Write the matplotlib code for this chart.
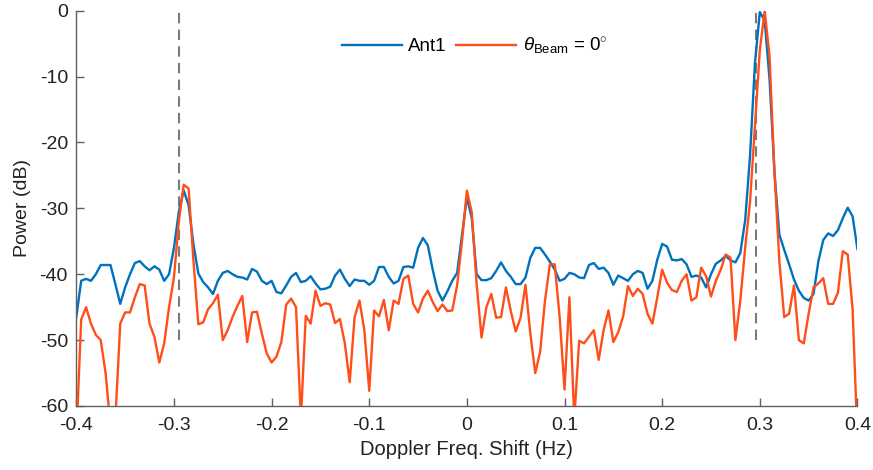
import numpy as np
import matplotlib
matplotlib.use("Agg")
import matplotlib.pyplot as plt

plt.rcParams['font.family'] = ['Liberation Sans', 'DejaVu Sans']
plt.rcParams['axes.unicode_minus'] = False
plt.rcParams['mathtext.fontset'] = 'custom'
plt.rcParams['mathtext.rm'] = 'Liberation Sans'
plt.rcParams['mathtext.it'] = 'Liberation Sans:italic'

# frequency grid (Hz), 0.005 Hz step
freq = np.linspace(-0.4, 0.4, 161)

ant1 = [
    -46.5, -41.0, -40.7, -41.0, -40.0, -38.6, -38.6, -38.6, -41.5, -44.5,
    -42.0, -40.0, -38.3, -38.0, -38.8, -39.4, -38.8, -39.3, -41.0, -40.0,
    -36.0, -30.5, -27.3, -29.5, -35.5, -39.9, -41.2, -42.0, -43.0, -41.0,
    -39.8, -39.5, -40.0, -40.4, -40.5, -40.8, -39.2, -39.6, -41.0, -41.5,
    -41.0, -42.7, -42.9, -41.7, -40.4, -39.8, -41.2, -41.0, -40.3, -41.4,
    -42.3, -42.2, -41.9, -40.2, -39.3, -40.7, -41.8, -40.8, -41.0, -41.0,
    -41.6, -41.0, -38.9, -38.9, -40.4, -41.4, -41.0, -38.9, -38.8, -39.0,
    -36.0, -34.5, -35.6, -39.3, -42.5, -44.0, -42.6, -41.0, -39.8, -34.0,
    -28.3, -31.5, -40.0, -40.9, -40.9, -40.6, -39.5, -38.2, -39.5, -40.4,
    -41.5, -41.5, -40.5, -37.5, -36.0, -36.0, -37.0, -38.1, -39.3, -41.0,
    -40.7, -39.8, -40.0, -40.5, -40.6, -38.6, -38.3, -39.2, -39.0, -39.8,
    -41.6, -40.2, -40.6, -41.0, -40.0, -39.5, -39.8, -42.2, -41.0, -37.8,
    -35.4, -35.8, -37.8, -37.9, -37.7, -38.5, -40.4, -40.2, -40.5, -42.0,
    -40.0, -38.4, -37.9, -37.2, -37.9, -38.2, -36.8, -31.8, -22.0, -8.0,
    -0.2, -1.5, -10.5, -24.5, -34.0, -36.3, -38.5, -40.8, -42.5, -43.6,
    -44.0, -43.0, -38.0, -34.8, -33.8, -34.2, -33.3, -31.5, -29.9, -31.2,
    -36.2,
]

beam0 = [
    -65.0, -46.9, -45.0, -47.5, -49.2, -50.0, -55.0, -63.0, -62.0, -47.5,
    -45.8, -45.8, -43.5, -41.5, -41.7, -47.5, -49.5, -53.4, -50.5, -45.0,
    -40.5, -32.0, -26.4, -27.0, -38.0, -47.6, -47.3, -45.3, -44.4, -43.1,
    -50.0, -48.5, -46.5, -44.8, -43.3, -50.3, -45.8, -45.7, -49.0, -52.0,
    -53.4, -52.5, -50.3, -44.6, -43.7, -45.0, -62.0, -46.3, -47.5, -42.5,
    -44.8, -44.4, -44.6, -47.4, -46.8, -50.5, -56.4, -46.5, -44.0, -48.5,
    -57.7, -45.5, -46.4, -43.9, -48.5, -44.0, -44.5, -40.7, -40.2, -44.5,
    -45.8, -43.7, -42.5, -44.2, -45.6, -44.6, -45.6, -45.5, -41.7, -35.0,
    -27.3, -30.6, -41.5, -49.6, -45.0, -43.0, -46.6, -46.5, -42.0, -45.6,
    -48.7, -46.6, -41.6, -49.0, -55.0, -51.8, -44.0, -38.5, -38.5, -46.5,
    -57.5, -43.5, -62.0, -50.1, -50.5, -49.5, -48.5, -53.0, -48.5, -45.5,
    -50.3, -48.8, -46.4, -41.8, -43.3, -42.2, -43.0, -46.0, -47.5, -43.5,
    -39.3, -41.3, -42.4, -42.7, -41.0, -40.0, -44.0, -43.5, -39.0, -40.3,
    -43.4, -41.0, -39.3, -37.0, -37.5, -50.0, -44.0, -36.0, -29.0, -17.5,
    -6.0, 0.0, -7.0, -24.5, -38.0, -46.5, -46.0, -41.7, -50.0, -50.5,
    -46.0, -42.0, -41.4, -40.6, -44.5, -44.5, -42.8, -36.5, -37.0, -45.3,
    -65.0,
]

# expected target Doppler shifts
marker_freqs = [-0.2945, 0.2960]
marker_top, marker_bottom = 0, -50

xticks = [-0.4, -0.3, -0.2, -0.1, 0, 0.1, 0.2, 0.3, 0.4]
xticklabels = ['-0.4', '-0.3', '-0.2', '-0.1', '0', '0.1', '0.2', '0.3', '0.4']
yticks = [0, -10, -20, -30, -40, -50, -60]

fig = plt.figure(figsize=(8.73, 4.70), dpi=100)
ax = fig.add_axes([0.0874, 0.1362, 0.8948, 0.841])

for f in marker_freqs:
    ax.plot([f, f], [marker_bottom, marker_top], color='#7a7a7a',
            lw=1.5, ls=(0, (5, 3)), zorder=1)

ax.plot(freq, ant1, color='#0072BD', lw=1.7, label='Ant1', zorder=2)
ax.plot(freq, beam0, color='#FF4E1A', lw=1.7,
        label=r'$\theta_{\mathrm{Beam}}$ = 0$^{\circ}$', zorder=3)

ax.set_xlim(-0.4, 0.4)
ax.set_ylim(-60, 0)
ax.set_xticks(xticks)
ax.set_xticklabels(xticklabels)
ax.set_yticks(yticks)

for s in ['top', 'right']:
    ax.spines[s].set_visible(False)
for s in ['left', 'bottom']:
    ax.spines[s].set_color('#606060')
    ax.spines[s].set_linewidth(1.0)
ax.tick_params(direction='in', length=6, width=1.0, color='#606060',
               labelsize=14, labelcolor='#222222')
ax.tick_params(axis='x', pad=8)
ax.tick_params(axis='y', pad=6)

ax.set_xlabel('Doppler Freq. Shift (Hz)', fontsize=14.5, color='#222222',
              labelpad=4)
ax.set_ylabel('Power (dB)', fontsize=14, color='#222222', labelpad=6)

ax.legend(loc='center', bbox_to_anchor=(0.51, 0.91), ncol=2, frameon=False,
          fontsize=13.5, handlelength=3.2, handletextpad=0.35,
          columnspacing=0.5)

fig.savefig('out.png', dpi=100)
